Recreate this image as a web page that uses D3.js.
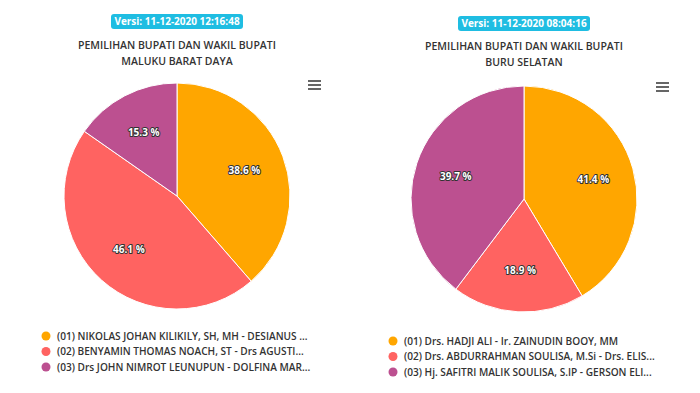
<!DOCTYPE html>
<html>
<head>
<meta charset="utf-8">
<script src="https://cdn.jsdelivr.net/npm/d3@7"></script>
<style>
  body { margin: 0; background: #fff; }
  svg { display: block; font-family: "Open Sans", "Noto Sans", sans-serif; }
</style>
</head>
<body>
<svg id="chart" width="700" height="393"></svg>
<script>
// chart data
const versions = ["Versi: 11-12-2020 12:16:48", "Versi: 11-12-2020 08:04:16"];
const titles = [
  ["PEMILIHAN BUPATI DAN WAKIL BUPATI", "MALUKU BARAT DAYA"],
  ["PEMILIHAN BUPATI DAN WAKIL BUPATI", "BURU SELATAN"]
];
const candidates1 = [
  "(01) NIKOLAS JOHAN KILIKILY, SH, MH - DESIANUS ...",
  "(02) BENYAMIN THOMAS NOACH, ST - Drs AGUSTI...",
  "(03) Drs JOHN NIMROT LEUNUPUN - DOLFINA MAR..."
];
const candidates2 = [
  "(01) Drs. HADJI ALI - Ir. ZAINUDIN BOOY, MM",
  "(02) Drs. ABDURRAHMAN SOULISA, M.Si - Drs. ELIS...",
  "(03) Hj. SAFITRI MALIK SOULISA, S.IP - GERSON ELI..."
];
const values1 = [38.6, 46.1, 15.3];
const values2 = [41.4, 18.9, 39.7];
const colors = ["#ffa600", "#ff6361", "#bc5090"];

const svg = d3.select("#chart");

function drawPanel(opt) {
  const g = svg.append("g");

  // version badge
  const badge = g.append("g");
  badge.append("rect")
    .attr("x", opt.cx - 66).attr("y", opt.badgeY)
    .attr("width", 132).attr("height", 15)
    .attr("rx", 3)
    .attr("fill", "#1fbde2");
  badge.append("text")
    .attr("x", opt.cx).attr("y", opt.badgeY + 11)
    .attr("text-anchor", "middle")
    .attr("fill", "#fff")
    .attr("font-size", 10)
    .attr("font-weight", "bold")
    .text(opt.version);

  // title
  opt.title.forEach(function(line, i) {
    g.append("text")
      .attr("x", opt.cx).attr("y", opt.titleY + i * 16)
      .attr("text-anchor", "middle")
      .attr("fill", "#333")
      .attr("font-size", 10.5)
      .attr("font-weight", 600)
      .text(line);
  });

  // menu icon
  for (var k = 0; k < 3; k++) {
    g.append("rect")
      .attr("x", opt.menuX).attr("y", opt.menuY + k * 4)
      .attr("width", 13).attr("height", 2)
      .attr("fill", "#666");
  }

  // pie
  const pie = d3.pie().sort(null).value(d => d);
  const arcs = pie(opt.values);
  const arc = d3.arc().innerRadius(0).outerRadius(opt.r);
  const labelArc = d3.arc().innerRadius(opt.r - 41).outerRadius(opt.r - 41);

  const pg = g.append("g").attr("transform", `translate(${opt.cx},${opt.cy})`);
  pg.selectAll("path")
    .data(arcs)
    .enter()
    .append("path")
    .attr("d", arc)
    .attr("fill", (d, i) => colors[i])
    .attr("stroke", "#fff")
    .attr("stroke-width", 1);

  pg.selectAll("text")
    .data(arcs)
    .enter()
    .append("text")
    .attr("transform", d => `translate(${labelArc.centroid(d)})`)
    .attr("text-anchor", "middle")
    .attr("dy", "0.35em")
    .attr("font-size", 10)
    .attr("font-weight", "bold")
    .attr("fill", "#fff")
    .attr("stroke", "#333")
    .attr("stroke-width", 2)
    .attr("stroke-linejoin", "round")
    .attr("paint-order", "stroke")
    .text(d => d.data.toFixed(1) + " %");

  // legend
  opt.legend.forEach(function(name, i) {
    const y = opt.legendY + i * 15.5;
    g.append("circle")
      .attr("cx", opt.legendX).attr("cy", y)
      .attr("r", 4.5)
      .attr("fill", colors[i]);
    g.append("text")
      .attr("x", opt.legendX + 11).attr("y", y + 3.5)
      .attr("fill", "#333")
      .attr("font-size", 10.1)
      .attr("font-weight", 600)
      .text(name);
  });
}

drawPanel({
  cx: 177, cy: 196, r: 113,
  version: versions[0], badgeY: 14, titleY: 49,
  title: titles[0],
  menuX: 308, menuY: 80,
  values: values1,
  legend: candidates1, legendX: 46, legendY: 336
});

drawPanel({
  cx: 524, cy: 199, r: 113,
  version: versions[1], badgeY: 16, titleY: 50,
  title: titles[1],
  menuX: 656, menuY: 82,
  values: values2,
  legend: candidates2, legendX: 393, legendY: 341
});
</script>
</body>
</html>
